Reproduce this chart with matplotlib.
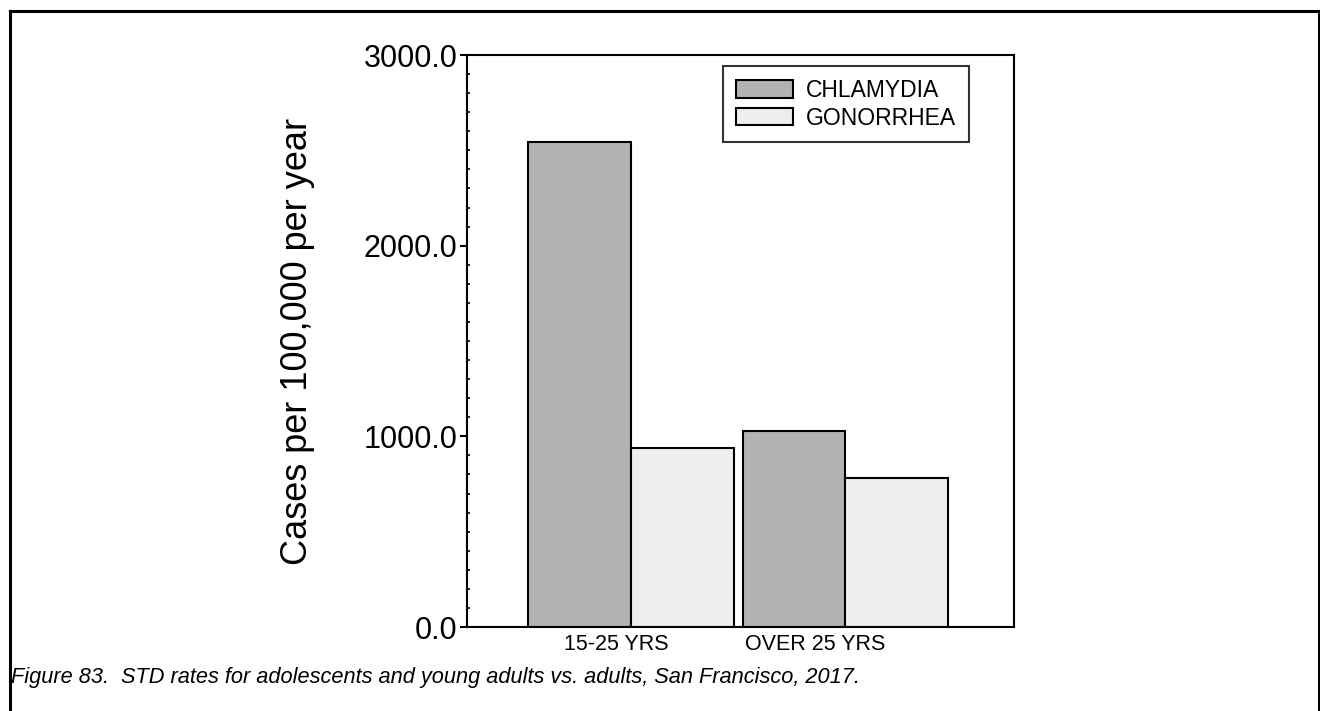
import matplotlib
matplotlib.use("Agg")
import matplotlib.pyplot as plt
from matplotlib.lines import Line2D
from matplotlib.ticker import MultipleLocator, FormatStrFormatter

# === Datos ===
grupos = ["15-25 YRS", "OVER 25 YRS"]
series = ["CHLAMYDIA", "GONORRHEA"]
chlamydia = [2544, 1028]
gonorrhea = [939, 781]
colores = ["#b2b2b2", "#eeeeee"]
titulo = "Figure 83.  STD rates for adolescents and young adults vs. adults, San Francisco, 2017."

plt.rcParams['font.family'] = ['Liberation Sans', 'DejaVu Sans']

fig = plt.figure(figsize=(13.2, 7.11), dpi=100)
ax = fig.add_axes([0.3538, 0.1181, 0.4144, 0.8045])

x = list(range(len(grupos)))
ancho = 0.48
ax.bar([i - ancho / 2 for i in x], chlamydia, ancho, color=colores[0],
       edgecolor='black', linewidth=1.5, label=series[0])
ax.bar([i + ancho / 2 for i in x], gonorrhea, ancho, color=colores[1],
       edgecolor='black', linewidth=1.5, label=series[1])

ax.set_xlim(-0.765, 1.786)
ax.set_ylim(0, 3000)
ax.yaxis.set_major_locator(MultipleLocator(1000))
ax.yaxis.set_minor_locator(MultipleLocator(100))
ax.yaxis.set_major_formatter(FormatStrFormatter('%.1f'))
ax.tick_params(axis='y', which='major', direction='out', length=5, width=1.5,
               labelsize=22, pad=2)
ax.tick_params(axis='y', which='minor', direction='in', length=2, width=1.2)

# etiquetas del eje x ligeramente a la izquierda del centro del grupo
ax.set_xticks([i - 0.07 * (1 + i) for i in x])
ax.set_xticklabels(grupos)
ax.tick_params(axis='x', length=0, labelsize=15.5, pad=5)

for s in ax.spines.values():
    s.set_linewidth(1.5)

ax.set_ylabel("Cases per 100,000 per year", fontsize=26)
ax.yaxis.set_label_coords(-0.278, 0.5)

leg = ax.legend(loc='upper right', bbox_to_anchor=(0.917, 0.98), fontsize=16.5,
                frameon=True, fancybox=False, edgecolor='black',
                handlelength=2.5, handleheight=0.8, handletextpad=0.55,
                borderpad=0.55, labelspacing=0.2, borderaxespad=0)
leg.get_frame().set_linewidth(1.5)

# marco exterior (abierto abajo)
W, H = 1320, 711
fig.add_artist(Line2D([10 / W, 10 / W], [0, 1 - 11 / H], color='black', linewidth=2.2,
                      transform=fig.transFigure))
fig.add_artist(Line2D([10 / W, 1319 / W], [1 - 11 / H, 1 - 11 / H], color='black',
                      linewidth=2.2, transform=fig.transFigure))
fig.add_artist(Line2D([1319 / W, 1319 / W], [0, 1 - 11 / H], color='black',
                      linewidth=2.2, transform=fig.transFigure))

fig.text(11 / W, 1 - 677 / H, titulo, fontsize=15.7, style='italic', va='center', ha='left')

plt.savefig("out.png", dpi=100)
